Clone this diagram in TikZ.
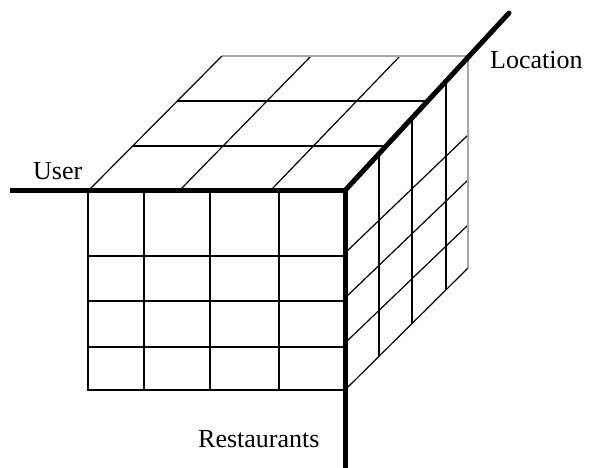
\documentclass[tikz,border=0pt]{standalone}
\usepackage{fontspec}
\setmainfont{Liberation Serif}
\begin{document}
\begin{tikzpicture}[x=1pt,y=-1pt,
  thinline/.style={line width=1.2pt,black},
  backline/.style={line width=1.4pt,black!35},
  axisline/.style={line width=5pt,black},
  lbl/.style={inner sep=0pt,anchor=base west,font=\fontsize{26}{30}\selectfont}]
\useasboundingbox (0,0) rectangle (589,467);
% key corners
\coordinate (O) at (345,190.5);
\coordinate (Uend) at (10,190.5);
\coordinate (Rend) at (345,467);
\coordinate (Lend) at (509,13);
\coordinate (FL) at (88,190);
\coordinate (FBL) at (88,390);
\coordinate (FBR) at (345,390);
\coordinate (TBL) at (222,56);
\coordinate (TBR) at (468,56);
\coordinate (RBB) at (468,268);
% front face grid
\foreach \x in {144,210,279} \draw[thinline] (\x,190) -- (\x,390);
\draw[thinline] (FL) -- (FBL) -- (FBR);
\foreach \y in {256,301,347} \draw[thinline] (88,\y) -- (345,\y);
% top face grid
\draw[thinline] (89,190) -- (TBL);
\draw[thinline] (180,190) -- (311,56);
\draw[thinline] (271,190) -- (400,56);
\draw[thinline] (132.7,146) -- (385.4,146);
\draw[thinline] (177.3,101) -- (426.7,101);
% right face grid
\draw[thinline] (345,253) -- (468,135);
\draw[thinline] (345,298) -- (468,180);
\draw[thinline] (345,343) -- (468,225);
\draw[thinline] (FBR) -- (RBB);
\draw[thinline] (379,153) -- (379,355.6);
\draw[thinline] (412,117) -- (412,323.1);
\draw[thinline] (446,80) -- (446,289.6);
% hidden back edges
\draw[backline] (TBL) -- (TBR) -- (RBB);
% axes
\draw[axisline,line width=5.5pt] (Uend) -- (O);
\draw[axisline,line cap=rect] (O) -- (Rend);
\draw[axisline,line cap=round] (O) -- (Lend);
% labels
\node[lbl] (user) at (33,179) {User};
\node[lbl] (loc) at (490,68) {Location};
\node[lbl] (rest) at (198,447) {Restaurants};
\end{tikzpicture}
\end{document}
